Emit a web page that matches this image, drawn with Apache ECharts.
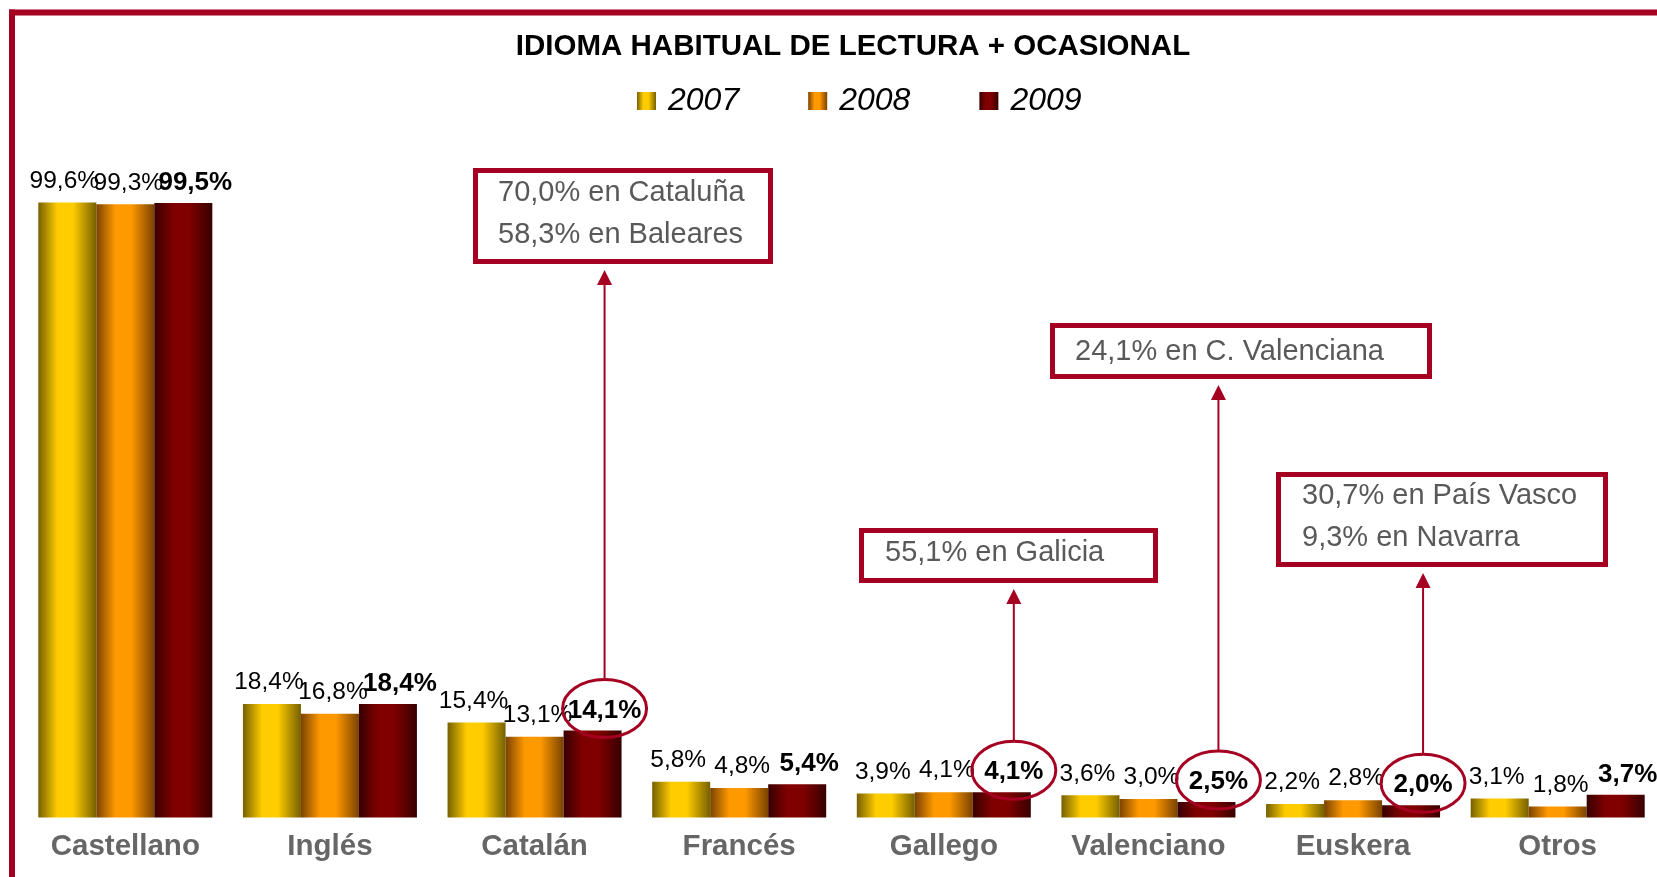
<!DOCTYPE html>
<html>
<head>
<meta charset="utf-8">
<title>Idioma habitual de lectura + ocasional</title>
<script src="https://cdn.jsdelivr.net/npm/echarts@6/dist/echarts.min.js"></script>
<style>
  html, body { margin: 0; padding: 0; background: #fff; }
  #chart { width: 1657px; height: 877px; }
</style>
</head>
<body>
<div id="chart"></div>
<script>
const categories = ['Castellano', 'Inglés', 'Catalán', 'Francés', 'Gallego', 'Valenciano', 'Euskera', 'Otros']
const years = ['2007', '2008', '2009']
const values2007 = [99.6, 18.4, 15.4, 5.8, 3.9, 3.6, 2.2, 3.1]
const values2008 = [99.3, 16.8, 13.1, 4.8, 4.1, 3.0, 2.8, 1.8]
const values2009 = [99.5, 18.4, 14.1, 5.4, 4.1, 2.5, 2.0, 3.7]

// notas regionales: categoría señalada y texto del recuadro
const noteCategories = ['Catalán', 'Gallego', 'Valenciano', 'Euskera']
const noteTexts = [
  ['70,0% en Cataluña', '58,3% en Baleares'],
  ['55,1% en Galicia'],
  ['24,1% en C. Valenciana'],
  ['30,7% en País Vasco', '9,3% en Navarra']
]

// posición de los recuadros (anotaciones, en píxeles)
const noteBoxes = [
  { x: 475.5, y: 170.5, w: 295, h: 91, tx: 498, ty: [193, 235] },
  { x: 861.5, y: 530.5, w: 294, h: 50, tx: 885, ty: [553] },
  { x: 1052.5, y: 325.5, w: 377, h: 51, tx: 1075, ty: [352] },
  { x: 1278.5, y: 474.5, w: 327, h: 90, tx: 1302, ty: [496, 538] }
]

const RED = '#A50021'
const FONT = '"Liberation Sans", Arial, sans-serif'
const BAR_W = 58
const DX_2009 = 12

function grad (dark, light) {
  return new echarts.graphic.LinearGradient(0, 0, 1, 0, [
    { offset: 0, color: dark },
    { offset: 0.33, color: light },
    { offset: 0.6, color: light },
    { offset: 1, color: dark }
  ])
}

function pct (v) {
  return v.toFixed(1).replace('.', ',') + '%'
}

function barSeries (name, data, colors, bold, dx) {
  return {
    name: name,
    type: 'bar',
    data: data,
    barWidth: BAR_W,
    barGap: '0%',
    itemStyle: { color: grad(colors[0], colors[1]) },
    label: {
      show: true,
      position: 'top',
      distance: bold ? 7 : 9,
      offset: [dx, 0],
      formatter: p => pct(p.value),
      fontFamily: FONT,
      fontSize: bold ? 26 : 24.5,
      fontWeight: bold ? 'bold' : 'normal',
      color: '#000'
    }
  }
}

const myChart = echarts.init(document.getElementById('chart'))

const options = {
  backgroundColor: '#fff',
  animation: false,
  textStyle: { fontFamily: FONT },
  title: {
    text: 'IDIOMA HABITUAL DE LECTURA + OCASIONAL',
    left: 853,
    textAlign: 'center',
    top: 32,
    padding: 0,
    textStyle: { fontSize: 29.5, fontWeight: 'bold', color: '#000', fontFamily: FONT }
  },
  legend: {
    data: years,
    left: 637,
    top: 85,
    padding: 0,
    icon: 'rect',
    itemWidth: 19,
    itemHeight: 18,
    itemGap: 69,
    textStyle: {
      fontSize: 32,
      fontStyle: 'italic',
      color: '#000',
      fontFamily: FONT,
      padding: [0, 0, 0, 7]
    }
  },
  grid: {
    left: 23,
    top: 200,
    width: 1637,
    height: 620,
    outerBoundsMode: 'none'
  },
  xAxis: {
    type: 'category',
    data: categories,
    axisLine: { show: false },
    axisTick: { show: false },
    axisLabel: {
      margin: 12,
      fontSize: 29.5,
      fontWeight: 'bold',
      color: '#666',
      fontFamily: FONT
    }
  },
  yAxis: {
    type: 'value',
    min: -0.4,
    max: 100,
    show: false,
    splitLine: { show: false }
  },
  series: [
    barSeries('2007', values2007, ['#766000', '#FFCC00'], false, -3),
    barSeries('2008', values2008, ['#7A4200', '#FF9900'], false, 3),
    barSeries('2009', values2009, ['#380000', '#800000'], true, DX_2009)
  ]
}

myChart.setOption(options)

// marco, círculos, flechas y recuadros de las notas
const graphics = [
  { type: 'rect', shape: { x: 9, y: 9.5, width: 1648, height: 6 }, style: { fill: RED } },
  { type: 'rect', shape: { x: 9, y: 9.5, width: 6, height: 868 }, style: { fill: RED } }
]

noteCategories.forEach((cat, k) => {
  const idx = categories.indexOf(cat)
  const cx = myChart.convertToPixel({ xAxisIndex: 0 }, cat) + BAR_W + DX_2009
  const top = myChart.convertToPixel({ yAxisIndex: 0 }, values2009[idx])
  const cy = top - 22
  const rx = 42
  const ry = 29
  const box = noteBoxes[k]
  const tipY = box.y + box.h + 2.5 + 6

  graphics.push({
    type: 'ellipse',
    z: 100,
    shape: { cx: cx, cy: cy, rx: rx, ry: ry },
    style: { fill: 'none', stroke: RED, lineWidth: 3 }
  })
  graphics.push({
    type: 'line',
    z: 100,
    shape: { x1: cx, y1: cy - ry, x2: cx, y2: tipY + 12 },
    style: { stroke: RED, lineWidth: 2 }
  })
  graphics.push({
    type: 'polygon',
    z: 100,
    shape: { points: [[cx, tipY], [cx - 7.5, tipY + 15], [cx + 7.5, tipY + 15]] },
    style: { fill: RED }
  })
  graphics.push({
    type: 'rect',
    z: 100,
    shape: { x: box.x, y: box.y, width: box.w, height: box.h },
    style: { fill: '#fff', stroke: RED, lineWidth: 5 }
  })
  noteTexts[k].forEach((line, j) => {
    graphics.push({
      type: 'text',
      z: 101,
      style: {
        text: line,
        x: box.tx,
        y: box.ty[j],
        fill: '#595959',
        font: '29px ' + FONT,
        textAlign: 'left',
        textVerticalAlign: 'middle'
      }
    })
  })
})

myChart.setOption({ graphic: graphics })
</script>
</body>
</html>
